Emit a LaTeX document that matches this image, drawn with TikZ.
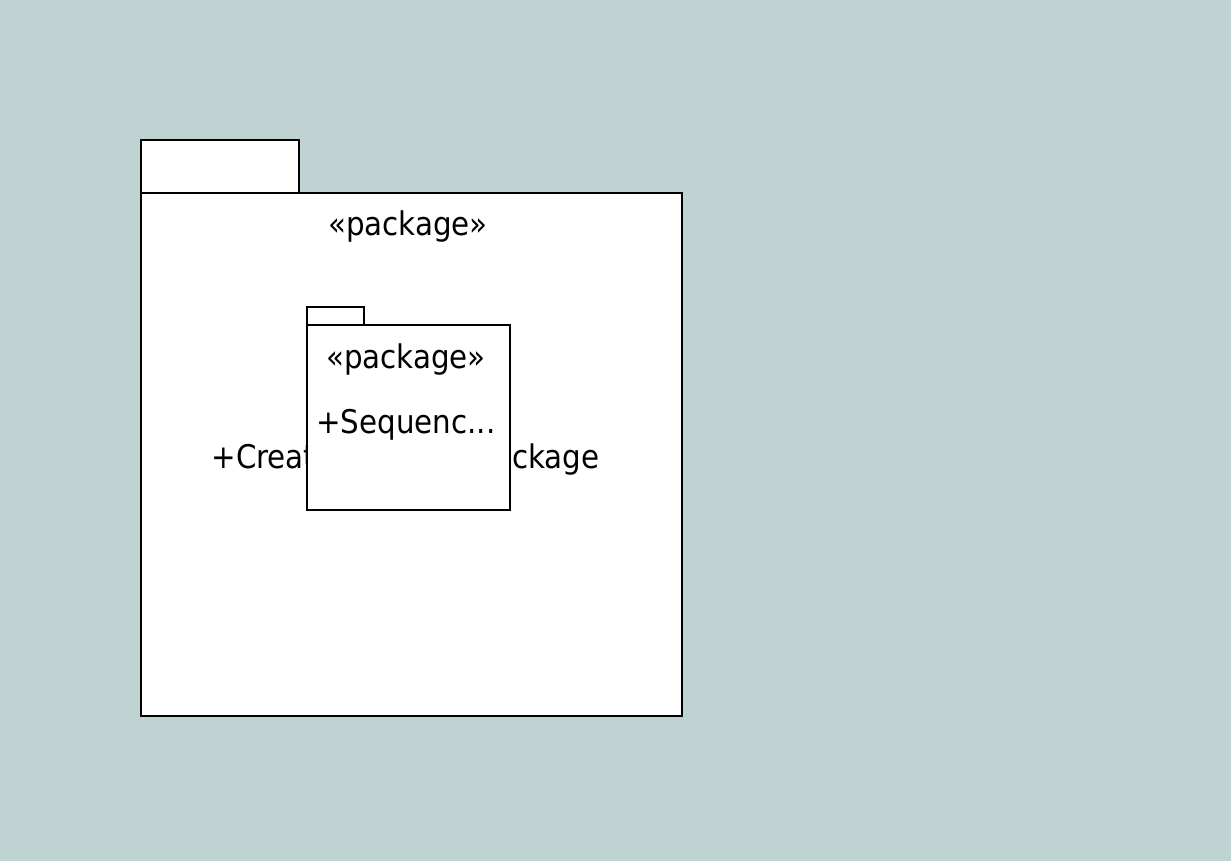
\documentclass[tikz,border=0pt]{standalone}
\usepackage{fontspec}
\setmainfont{DejaVu Sans Condensed}
\usetikzlibrary{positioning}
\definecolor{bgteal}{RGB}{191,211,210}

\begin{document}
\begin{tikzpicture}[x=1pt, y=-1pt,
    pkg/.style={draw=black, fill=white, line width=2.5pt, inner sep=0pt, outer sep=0pt, anchor=north west},
    lbl/.style={font=\fontsize{32.6}{38}\selectfont, inner sep=0pt, anchor=base}]
  \fill[bgteal] (0,0) rectangle (1231,861);
  \useasboundingbox (0,0) rectangle (1231,861);
  % outer package
  \node[pkg, minimum width=158pt, minimum height=53pt] (outertab) at (141,140) {};
  \node[pkg, minimum width=541pt, minimum height=523pt] (outer) at (141,193) {};
  \node[lbl] (outerst) at (408,236) {«package»};
  \node[lbl] (outername) at (405.5,468) {+CreateSequencePackage};
  % inner package
  \node[pkg, minimum width=57pt, minimum height=18pt] (innertab) at (307,307) {};
  \node[pkg, minimum width=203pt, minimum height=185pt] (inner) at (307,325) {};
  \node[lbl] (innerst) at (406,368) {«package»};
  \node[lbl] (innername) at (406,433) {+Sequenc...};
\end{tikzpicture}
\end{document}
